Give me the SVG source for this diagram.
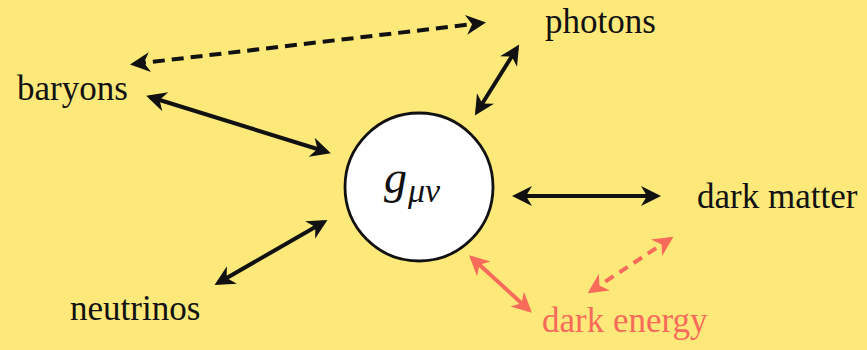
<svg xmlns="http://www.w3.org/2000/svg" width="867" height="350" viewBox="0 0 867 350">
<defs>
<style>
.lbl{font-family:"Liberation Serif","Times New Roman",serif;font-size:35px;fill:#111}
.red{fill:#f86a5a}
.c{fill:none;stroke:#111;stroke-width:4}
.cr{fill:none;stroke:#f86a5a;stroke-width:4}
.d{stroke-dasharray:12 7}
.d2{stroke-dasharray:10 7}
</style>
<marker id="ah" markerUnits="userSpaceOnUse" markerWidth="30" markerHeight="30" viewBox="-22 -15 30 30" refX="0" refY="0" orient="auto-start-reverse">
<path d="M4,0 L-16,-10 L-10,0 L-16,10 Z" fill="#111"/>
</marker>
<marker id="ahr" markerUnits="userSpaceOnUse" markerWidth="30" markerHeight="30" viewBox="-22 -15 30 30" refX="0" refY="0" orient="auto-start-reverse">
<path d="M4,0 L-16,-10 L-10,0 L-16,10 Z" fill="#f86a5a"/>
</marker>
</defs>
<rect width="867" height="350" fill="#fce97a"/>
<g id="connectors">
<line class="c d" x1="134" y1="64" x2="482" y2="23" marker-start="url(#ah)" marker-end="url(#ah)"/>
<line class="c" x1="150" y1="97" x2="327" y2="152" marker-start="url(#ah)" marker-end="url(#ah)"/>
<line class="c" x1="517" y1="48" x2="477" y2="112" marker-start="url(#ah)" marker-end="url(#ah)"/>
<line class="c" x1="218" y1="283" x2="324" y2="222" marker-start="url(#ah)" marker-end="url(#ah)"/>
<line class="c" x1="516" y1="196" x2="657" y2="196" marker-start="url(#ah)" marker-end="url(#ah)"/>
<line class="cr" x1="472" y1="258" x2="529" y2="310" marker-start="url(#ahr)" marker-end="url(#ahr)"/>
<line class="cr d2" x1="591" y1="291" x2="670" y2="239" marker-start="url(#ahr)" marker-end="url(#ahr)"/>
</g>
<g id="metric">
<circle cx="419" cy="187" r="74" fill="#fff" stroke="#111" stroke-width="2.8"/>
<text x="384" y="193" font-family="'Liberation Serif','Times New Roman',serif" font-style="italic" font-size="46" fill="#111">g</text>
<text x="408" y="202" font-family="'Liberation Serif','Times New Roman',serif" font-style="italic" font-size="34" fill="#111">μν</text>
</g>
<g id="baryons"><text class="lbl" x="17" y="100">baryons</text></g>
<g id="photons"><text class="lbl" x="545" y="33">photons</text></g>
<g id="neutrinos"><text class="lbl" x="70" y="320">neutrinos</text></g>
<g id="dark-matter"><text class="lbl" x="697" y="208">dark matter</text></g>
<g id="dark-energy"><text class="lbl red" x="542" y="332">dark energy</text></g>
</svg>
